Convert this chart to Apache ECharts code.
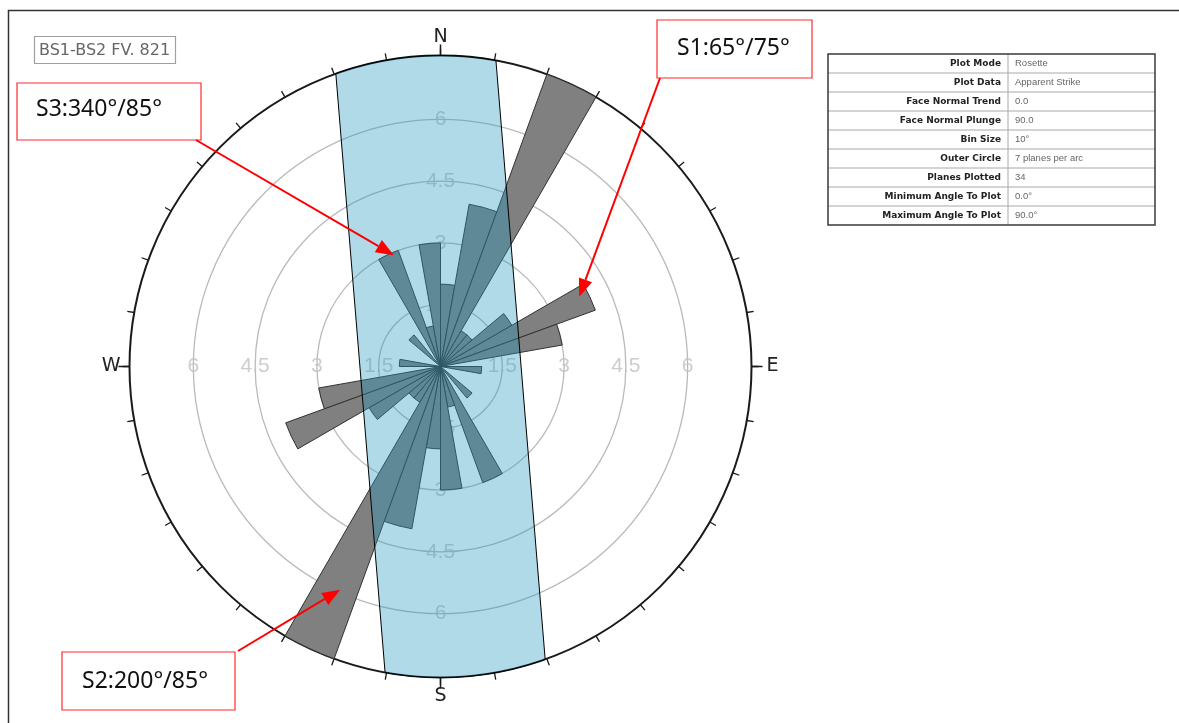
<!DOCTYPE html>
<html>
<head>
<meta charset="utf-8">
<script src="https://cdn.jsdelivr.net/npm/echarts@6/dist/echarts.min.js"></script>
<style>
  html, body { margin: 0; padding: 0; background: #fff; }
  #chart { width: 1179px; height: 723px; }
</style>
</head>
<body>
<div id="chart"></div>
<script>
// 10° strike bins, clockwise from north
const binStarts = ['0', '10', '20', '30', '40', '50', '60', '70', '80', '90', '100', '110',
  '120', '130', '140', '150', '160', '170', '180', '190', '200', '210', '220', '230',
  '240', '250', '260', '270', '280', '290', '300', '310', '320', '330', '340', '350'];
// planes per bin (apparent strike, bidirectional)
const planeCounts = [2, 4, 8, 1, 1, 2, 4, 3, 0, 1, 0, 0, 0, 1, 0, 3, 1, 3,
  2, 4, 8, 1, 1, 2, 4, 3, 0, 1, 0, 0, 0, 1, 0, 3, 1, 3];
// rings and their labels
const ringValues = [1.5, 3, 4.5, 6];
const ringLabelAzimuths = [0, 90, 180, 270];
const outerCircle = 7.55;
const compassLabels = { 0: 'N', 90: 'E', 180: 'S', 270: 'W' };
// shaded band: trend of its axis (°) and half-width (planes)
const bandTrend = 355.3;
const bandHalfWidth = 1.95;
// callouts: text and the point (planes, azimuth) each arrow points at
const calloutTexts = ['S1:65°/75°', 'S2:200°/85°', 'S3:340°/85°'];
const calloutTargets = [[3.77, 63.3], [5.94, 204.2], [2.93, 337.3]];
// info table
const tableLabels = ['Plot Mode', 'Plot Data', 'Face Normal Trend', 'Face Normal Plunge', 'Bin Size',
  'Outer Circle', 'Planes Plotted', 'Minimum Angle To Plot', 'Maximum Angle To Plot'];
const tableValues = ['Rosette', 'Apparent Strike', '0.0', '90.0', '10°',
  '7 planes per arc', '34', '0.0°', '90.0°'];
const plotTitle = 'BS1-BS2 FV. 821';

const chart = echarts.init(document.getElementById('chart'), null, { renderer: 'canvas' });

const center = [440.5, 366.5];
const radius = 311;
const lastRing = ringValues[ringValues.length - 1];
// inner polar holds the rings only, scaled so that its outer edge is the last ring
const ringRadius = radius * lastRing / outerCircle;

const ringLabelData = [];
ringLabelAzimuths.forEach(az => ringValues.forEach(r => ringLabelData.push([r, az])));

// callout box layout
const calloutBoxes = [
  { x: 657, y: 20, w: 155, h: 58, tx: 677, ty: 48, ax: 660, ay: 78 },
  { x: 62, y: 652, w: 173, h: 58, tx: 82, ty: 681, ax: 238, ay: 651 },
  { x: 17, y: 83, w: 184, h: 57, tx: 36, ty: 109, ax: 196, ay: 140 }
];

function tableGraphics() {
  const x0 = 828, x1 = 1155, xd = 1008, y0 = 54, rowH = 19;
  const els = [];
  for (let i = 1; i < tableLabels.length; i++) {
    els.push({ type: 'line', shape: { x1: x0, y1: y0 + i * rowH, x2: x1, y2: y0 + i * rowH },
      style: { stroke: '#a8a8a8', lineWidth: 1 } });
  }
  els.push({ type: 'line', shape: { x1: xd, y1: y0, x2: xd, y2: y0 + rowH * tableLabels.length },
    style: { stroke: '#a8a8a8', lineWidth: 1 } });
  els.push({ type: 'rect', shape: { x: x0, y: y0, width: x1 - x0, height: rowH * tableLabels.length },
    style: { fill: 'none', stroke: '#3a3a3a', lineWidth: 1.5 } });
  tableLabels.forEach((t, i) => {
    els.push({ type: 'text', x: xd - 7, y: y0 + i * rowH + rowH / 2,
      style: { text: t, align: 'right', verticalAlign: 'middle', fill: '#222',
        font: 'bold 9px "DejaVu Sans"' } });
    els.push({ type: 'text', x: xd + 7, y: y0 + i * rowH + rowH / 2,
      style: { text: tableValues[i], align: 'left', verticalAlign: 'middle', fill: '#666',
        font: '9.5px "Liberation Sans"' } });
  });
  return els;
}

const hidden = { axisLine: { show: false }, axisTick: { show: false },
  axisLabel: { show: false }, splitLine: { show: false } };

const option = {
  backgroundColor: '#fff',
  animation: false,
  polar: [
    { center: center, radius: ringRadius },
    { center: center, radius: radius },
    { center: center, radius: radius }
  ],
  angleAxis: [
    Object.assign({ polarIndex: 0, type: 'value', min: 0, max: 360, startAngle: 90 }, hidden),
    {
      polarIndex: 1, type: 'category', data: binStarts, startAngle: 90, clockwise: true,
      boundaryGap: true,
      axisLine: { show: false },
      axisTick: { show: true, interval: 8, length: 11, lineStyle: { color: '#1a1a1a', width: 1.5 } },
      axisLabel: { show: false },
      splitLine: { show: false }
    },
    {
      polarIndex: 2, type: 'value', min: 0, max: 360, interval: 10, startAngle: 90, clockwise: true,
      axisLine: { show: true, lineStyle: { color: '#1a1a1a', width: 2 } },
      axisTick: { show: true, length: 7, lineStyle: { color: '#1a1a1a', width: 1.3 } },
      axisLabel: {
        show: true, margin: 9,
        formatter: v => compassLabels[v] ? (v === 90 ? '{e|E}' : '{c|' + compassLabels[v] + '}') : '',
        rich: {
          c: { fontSize: 19, color: '#222', fontFamily: 'DejaVu Sans' },
          e: { fontSize: 19, color: '#222', fontFamily: 'DejaVu Sans', padding: [0, 0, 0, 6] }
        }
      },
      splitLine: { show: false }
    }
  ],
  radiusAxis: [
    {
      polarIndex: 0, type: 'value', min: 0, max: lastRing, interval: 1.5,
      axisLine: { show: false }, axisTick: { show: false }, axisLabel: { show: false },
      splitLine: { show: true, lineStyle: { color: '#bababa', width: 1.3 } }
    },
    Object.assign({ polarIndex: 1, type: 'value', min: 0, max: outerCircle }, hidden),
    Object.assign({ polarIndex: 2, type: 'value', min: 0, max: outerCircle }, hidden)
  ],
  series: [
    {
      name: 'ring labels', type: 'scatter', coordinateSystem: 'polar', polarIndex: 0,
      data: ringLabelData, symbolSize: 1, itemStyle: { color: 'rgba(0,0,0,0)' },
      silent: true, z: 1,
      label: {
        show: true, position: 'inside', formatter: p => String(p.value[0]),
        fontSize: 21, color: '#c0c0c0', fontFamily: 'Liberation Sans'
      }
    },
    {
      name: 'planes', type: 'bar', coordinateSystem: 'polar', polarIndex: 1,
      data: planeCounts, barCategoryGap: '0%', clip: true, z: 2,
      itemStyle: { color: '#808080', borderColor: '#333', borderWidth: 1 }
    },
    {
      // translucent shaded band over rings and bars
      name: 'band', type: 'custom', coordinateSystem: 'polar', polarIndex: 2,
      data: [[bandTrend, bandHalfWidth]], clip: false, silent: true, z: 3,
      renderItem: function (params, api) {
        const trend = api.value(0), half = api.value(1);
        const delta = Math.asin(half / outerCircle) * 180 / Math.PI;
        const steps = 30, pts = [];
        for (let i = 0; i <= steps; i++) {
          pts.push(api.coord([outerCircle, trend - delta + 2 * delta * i / steps]));
        }
        for (let i = 0; i <= steps; i++) {
          pts.push(api.coord([outerCircle, trend + 180 - delta + 2 * delta * i / steps]));
        }
        return {
          type: 'polygon', shape: { points: pts },
          style: { fill: 'rgba(36,153,192,0.36)', stroke: '#000', lineWidth: 1 }
        };
      }
    }
  ]
};

chart.setOption(option);

// callout arrows: tips located through the polar coordinate system
const calloutGraphics = [];
calloutTexts.forEach((t, i) => {
  const b = calloutBoxes[i];
  const tip = chart.convertToPixel({ seriesIndex: 2 }, calloutTargets[i]);
  const dx = tip[0] - b.ax, dy = tip[1] - b.ay;
  const len = Math.sqrt(dx * dx + dy * dy);
  const ux = dx / len, uy = dy / len;
  const headL = 18, headW = 7;
  const bx = tip[0] - ux * headL, by = tip[1] - uy * headL;
  calloutGraphics.push({ type: 'rect', z: 100, shape: { x: b.x, y: b.y, width: b.w, height: b.h },
    style: { fill: '#fff', stroke: '#ff2a2a', lineWidth: 1.2 } });
  calloutGraphics.push({ type: 'text', z: 101, x: b.tx, y: b.ty,
    style: { text: t, align: 'left', verticalAlign: 'middle', fill: '#111',
      font: '23px "Noto Sans"' } });
  calloutGraphics.push({ type: 'line', z: 100, shape: { x1: b.ax, y1: b.ay, x2: bx, y2: by },
    style: { stroke: '#ff0000', lineWidth: 2 } });
  calloutGraphics.push({ type: 'polygon', z: 100,
    shape: { points: [tip, [bx - uy * headW, by + ux * headW], [bx + uy * headW, by - ux * headW]] },
    style: { fill: '#ff0000' } });
});

chart.setOption({
  graphic: [
    { type: 'polyline', z: 90, shape: { points: [[8.5, 723], [8.5, 10.5], [1179, 10.5]] },
      style: { stroke: '#333', lineWidth: 1.5, fill: 'none' } },
    { type: 'rect', z: 90, shape: { x: 34.5, y: 36.5, width: 141, height: 27 },
      style: { fill: '#fff', stroke: '#a0a0a0', lineWidth: 1.2 } },
    { type: 'text', z: 91, x: 39, y: 50.5,
      style: { text: plotTitle, align: 'left', verticalAlign: 'middle', fill: '#666',
        font: '16px "DejaVu Sans"' } },
    ...tableGraphics(),
    ...calloutGraphics
  ]
});
</script>
</body>
</html>
